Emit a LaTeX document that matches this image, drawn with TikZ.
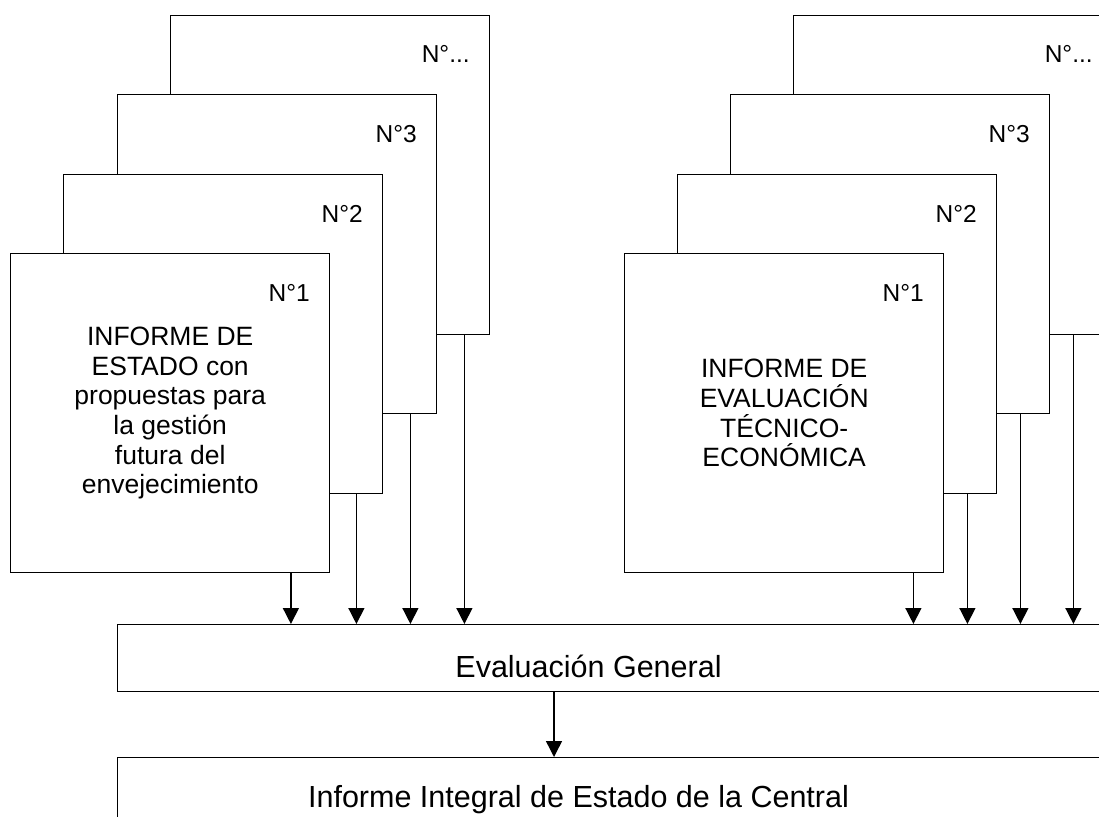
\documentclass[tikz,border=0pt]{standalone}
\usepackage{fontspec}
\setmainfont{Liberation Sans}
\usetikzlibrary{arrows.meta,positioning}

\begin{document}
\begin{tikzpicture}[x=1pt,y=-1pt,>={Triangle[length=16pt,width=16pt]},line width=1.4pt]

  \tikzstyle{report}=[rectangle,draw,fill=white,anchor=north west,
                      minimum width=319pt,minimum height=319pt,inner sep=0pt,
                      align=center,font=\fontsize{26.5}{29.6}\selectfont]
  \tikzstyle{number}=[anchor=base east,inner sep=0pt,
                      font=\fontsize{24.5}{28}\selectfont]
  \tikzstyle{stage}=[rectangle,draw,fill=white,anchor=north west,
                     minimum width=1040pt,inner sep=0pt]
  \tikzstyle{title}=[anchor=base,inner sep=0pt,font=\fontsize{30.5}{36}\selectfont]
  \tikzstyle{flow}=[->]

  \useasboundingbox (0,0) rectangle (1099,816);
  \clip (0,0) rectangle (1099,816);

  % Left stack
  \node [report] (ln) at (170,15)  {};
  \node [report] (l3) at (117,94)  {};
  \node [report] (l2) at (63,174)  {};
  \node [report] (l1) at (10,253)
    {INFORME DE\\ESTADO con\\propuestas para\\la gestión\\futura del\\envejecimiento};

  \node [number] (ln-no) at ([xshift=-20pt,yshift=-48pt]ln.north east) {N°...};
  \node [number] (l3-no) at ([xshift=-20pt,yshift=-48pt]l3.north east) {N°3};
  \node [number] (l2-no) at ([xshift=-20pt,yshift=-48pt]l2.north east) {N°2};
  \node [number] (l1-no) at ([xshift=-20pt,yshift=-48pt]l1.north east) {N°1};

  % Right stack
  \node [report] (rn) at (793,15)  {};
  \node [report] (r3) at (730,94)  {};
  \node [report] (r2) at (677,174) {};
  \node [report] (r1) at (624,253)
    {INFORME DE\\EVALUACIÓN\\TÉCNICO-\\ECONÓMICA};

  \node [number] (rn-no) at ([xshift=-20pt,yshift=-48pt]rn.north east) {N°...};
  \node [number] (r3-no) at ([xshift=-20pt,yshift=-48pt]r3.north east) {N°3};
  \node [number] (r2-no) at ([xshift=-20pt,yshift=-48pt]r2.north east) {N°2};
  \node [number] (r1-no) at ([xshift=-20pt,yshift=-48pt]r1.north east) {N°1};

  % Evaluation
  \node [stage,minimum height=67pt] (eval) at (117,624) {};
  \node [title] (eval-text) at (588.5,677) {Evaluación General};

  \node [stage,minimum height=120pt] (final) at (117,757) {};
  \node [title] (final-text) at (578.5,807) {Informe Integral de Estado de la Central};

  \draw [flow] ([xshift=-39.5pt]l1.south east) -- ([xshift=-39.5pt]l1.south east |- eval.north);
  \draw [flow] ([xshift=-27pt]l2.south east)   -- ([xshift=-27pt]l2.south east |- eval.north);
  \draw [flow] ([xshift=-27pt]l3.south east)   -- ([xshift=-27pt]l3.south east |- eval.north);
  \draw [flow] ([xshift=-26pt]ln.south east)   -- ([xshift=-26pt]ln.south east |- eval.north);

  \draw [flow] ([xshift=-31pt]r1.south east)   -- ([xshift=-31pt]r1.south east |- eval.north);
  \draw [flow] ([xshift=-30pt]r2.south east)   -- ([xshift=-30pt]r2.south east |- eval.north);
  \draw [flow] ([xshift=-30pt]r3.south east)   -- ([xshift=-30pt]r3.south east |- eval.north);
  \draw [flow] ([xshift=-40pt]rn.south east)   -- ([xshift=-40pt]rn.south east |- eval.north);

  \draw [flow] (eval.south -| 554,0) -- (final.north -| 554,0);
\end{tikzpicture}
\end{document}
